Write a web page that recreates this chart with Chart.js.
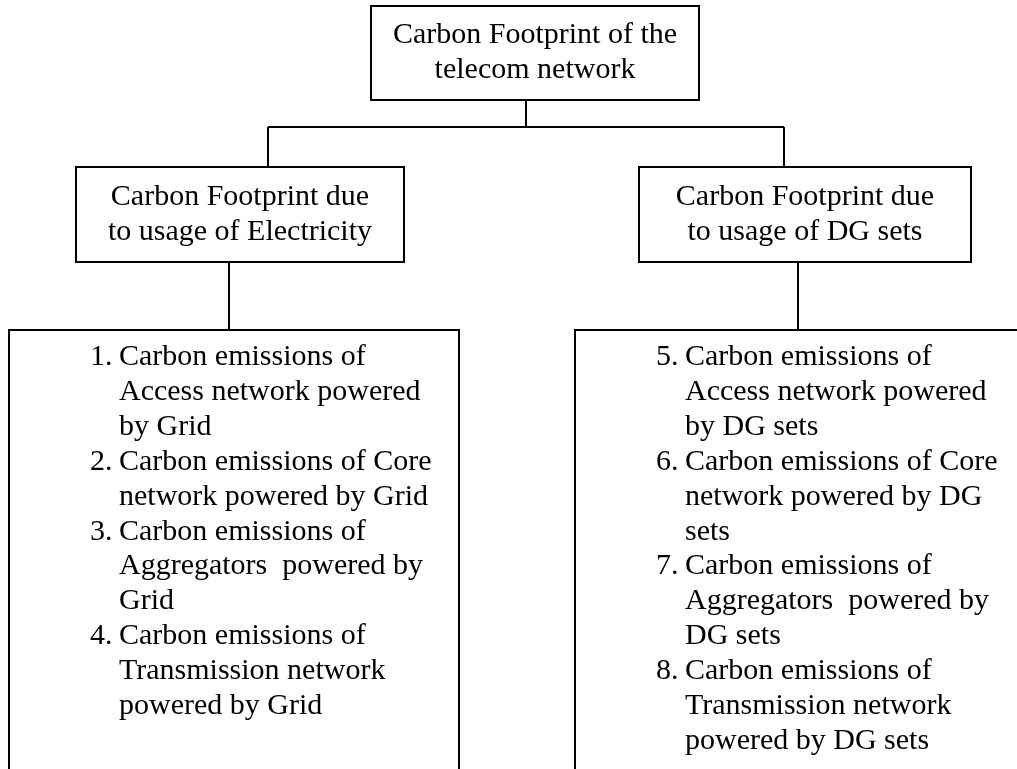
<!DOCTYPE html>
<html>
<head>
<meta charset="utf-8">
<script src="https://cdn.jsdelivr.net/npm/chart.js@4.4.1/dist/chart.umd.min.js"></script>
<style>
    html, body { margin: 0; padding: 0; background: #ffffff; }
    canvas { display: block; }
</style>
</head>
<body>
<canvas id="tree" width="1017" height="769"></canvas>
<script>
var ROOT_TEXT = ["Carbon Footprint of the", "telecom network"];
var BRANCH_TEXT = [
    ["Carbon Footprint due", "to usage of Electricity"],
    ["Carbon Footprint due", "to usage of DG sets"],
];
var LEAF_NUMBERS = [
    ["1.", "2.", "3.", "4."],
    ["5.", "6.", "7.", "8."],
];
var LEAF_ITEMS = [
    [
        ["Carbon emissions of", "Access network powered", "by Grid"],
        ["Carbon emissions of Core", "network powered by Grid"],
        ["Carbon emissions of", "Aggregators  powered by", "Grid"],
        ["Carbon emissions of", "Transmission network", "powered by Grid"],
    ],
    [
        ["Carbon emissions of", "Access network powered", "by DG sets"],
        ["Carbon emissions of Core", "network powered by DG", "sets"],
        ["Carbon emissions of", "Aggregators  powered by", "DG sets"],
        ["Carbon emissions of", "Transmission network", "powered by DG sets"],
    ],
];

// layout, in diagram units (same as the canvas pixels)
var ROOT_BOX = { x0: 371, x1: 699, y0: 6, y1: 100, cx: 535, base: 43 };
var BRANCH_BOX = [
    { x0: 76, x1: 404, y0: 167, y1: 262, cx: 240, base: 205, inX: 268, outX: 229 },
    { x0: 639, x1: 971, y0: 167, y1: 262, cx: 805, base: 205, inX: 784, outX: 798 },
];
var LEAF_BOX = [
    { x0: 9, x1: 459, y0: 330, y1: 800, numX: 90, textX: 119, base: 365 },
    { x0: 575, x1: 1025, y0: 330, y1: 800, numX: 656, textX: 685, base: 365 },
];
var ROOT_OUT_X = 526;
var BUS_Y = 127;
var LINE_STEP = 34.9;
var FONT = '30px "Liberation Serif", "Times New Roman", serif';

var treePlugin = {
    id: "tree",
    afterDraw: function (chart) {
        var ctx = chart.ctx;
        var sx = chart.scales.x;
        var sy = chart.scales.y;
        var px = function (v) { return sx.getPixelForValue(v); };
        var py = function (v) { return sy.getPixelForValue(v); };

        function line(x0, y0, x1, y1) {
            ctx.beginPath();
            ctx.moveTo(px(x0), py(y0));
            ctx.lineTo(px(x1), py(y1));
            ctx.stroke();
        }
        function box(b) {
            ctx.strokeRect(px(b.x0), py(b.y0), px(b.x1) - px(b.x0), py(b.y1) - py(b.y0));
        }

        ctx.save();
        ctx.strokeStyle = "#000000";
        ctx.lineWidth = 2;
        ctx.fillStyle = "#000000";
        ctx.font = FONT;
        ctx.textBaseline = "alphabetic";

        // root
        box(ROOT_BOX);
        ctx.textAlign = "center";
        ROOT_TEXT.forEach(function (t, i) {
            ctx.fillText(t, px(ROOT_BOX.cx), py(ROOT_BOX.base + i * LINE_STEP));
        });

        // connectors root -> branches
        line(ROOT_OUT_X, ROOT_BOX.y1, ROOT_OUT_X, BUS_Y);
        line(BRANCH_BOX[0].inX, BUS_Y, BRANCH_BOX[1].inX, BUS_Y);

        BRANCH_BOX.forEach(function (b, k) {
            line(b.inX, BUS_Y, b.inX, b.y0);
            box(b);
            ctx.textAlign = "center";
            BRANCH_TEXT[k].forEach(function (t, i) {
                ctx.fillText(t, px(b.cx), py(b.base + i * LINE_STEP));
            });
            line(b.outX, b.y1, b.outX, LEAF_BOX[k].y0);
        });

        // leaf lists
        LEAF_BOX.forEach(function (b, k) {
            box(b);
            ctx.textAlign = "left";
            var row = 0;
            LEAF_ITEMS[k].forEach(function (item, j) {
                ctx.fillText(LEAF_NUMBERS[k][j], px(b.numX), py(b.base + row * LINE_STEP));
                item.forEach(function (t) {
                    ctx.fillText(t, px(b.textX), py(b.base + row * LINE_STEP));
                    row++;
                });
            });
        });

        ctx.restore();
    },
};

const config = {
    type: "scatter",
    data: { datasets: [{ data: [] }] },
    options: {
        animation: false,
        responsive: false,
        layout: { padding: 0 },
        plugins: {
            legend: { display: false },
            tooltip: { enabled: false },
        },
        scales: {
            x: { type: "linear", min: 0, max: 1017, display: false },
            y: { type: "linear", min: 0, max: 769, reverse: true, display: false },
        },
    },
    plugins: [treePlugin],
};

new Chart(document.getElementById("tree"), config);
</script>
</body>
</html>
